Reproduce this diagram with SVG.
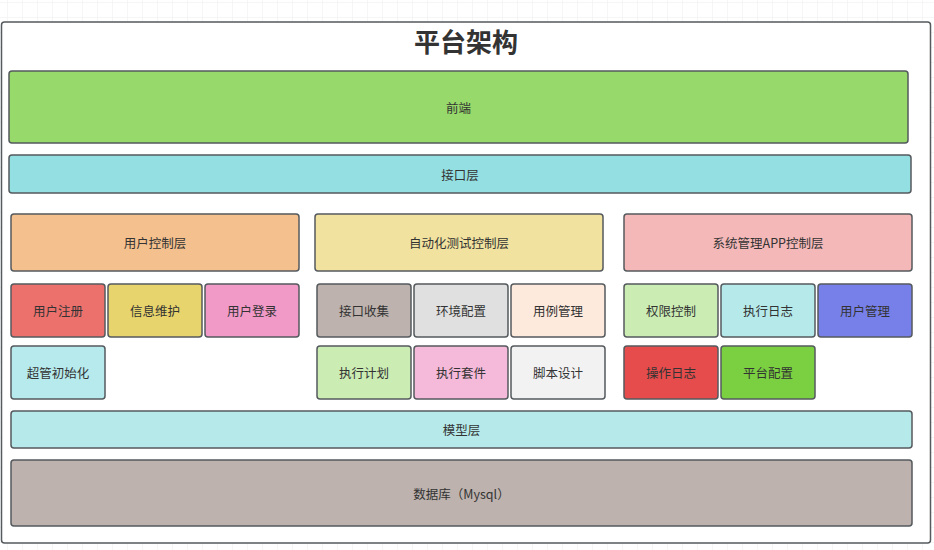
<svg xmlns="http://www.w3.org/2000/svg" width="934" height="550" viewBox="0 0 934 550">
<defs>
<pattern id="grid" x="7" y="2" width="15" height="15" patternUnits="userSpaceOnUse">
<path d="M0 0V15M0 0H15" fill="none" stroke="#eeeeee" stroke-width="1"/>
</pattern>
<style>
.b{stroke:#555a5e;stroke-width:1.5}
.t{font-family:"Noto Sans CJK SC","Liberation Sans",sans-serif;font-size:12.5px;fill:#333333;text-anchor:middle;dominant-baseline:central}
.h{font-family:"Noto Sans CJK SC","Liberation Sans",sans-serif;font-size:26px;font-weight:bold;fill:#333333;text-anchor:middle;dominant-baseline:central}
</style>
</defs>
<rect width="934" height="550" fill="#ffffff"/>
<rect width="934" height="550" fill="url(#grid)"/>
<g id="frame">
<rect x="1.5" y="22" width="929" height="521" rx="3" fill="#ffffff" class="b"/>
<text x="466" y="40" class="h">平台架构</text>
</g>
<g id="frontend"><rect x="9" y="71" width="899" height="72" rx="3" fill="#97d96a" class="b"/><text x="458.5" y="107" class="t">前端</text></g>
<g id="api-layer"><rect x="9" y="155" width="902" height="38" rx="3" fill="#93dfe1" class="b"/><text x="460" y="174" class="t">接口层</text></g>
<g id="user-ctrl"><rect x="11" y="214" width="288" height="57" rx="3" fill="#f4c08d" class="b"/><text x="155" y="242.5" class="t">用户控制层</text></g>
<g id="auto-ctrl"><rect x="315" y="214" width="288" height="57" rx="3" fill="#f1e29f" class="b"/><text x="459" y="242.5" class="t">自动化测试控制层</text></g>
<g id="sys-ctrl"><rect x="624" y="214" width="288" height="57" rx="3" fill="#f4b8b8" class="b"/><text x="768" y="242.5" class="t">系统管理APP控制层</text></g>
<g id="n-register"><rect x="11" y="284" width="94" height="53" rx="3" fill="#ec706c" class="b"/><text x="58" y="310.5" class="t">用户注册</text></g>
<g id="n-info"><rect x="108" y="284" width="94" height="53" rx="3" fill="#e8d46c" class="b"/><text x="155" y="310.5" class="t">信息维护</text></g>
<g id="n-login"><rect x="205" y="284" width="94" height="53" rx="3" fill="#f19ac8" class="b"/><text x="252" y="310.5" class="t">用户登录</text></g>
<g id="n-collect"><rect x="317" y="284" width="94" height="53" rx="3" fill="#bdb2ad" class="b"/><text x="364" y="310.5" class="t">接口收集</text></g>
<g id="n-env"><rect x="414" y="284" width="94" height="53" rx="3" fill="#e0e0e0" class="b"/><text x="461" y="310.5" class="t">环境配置</text></g>
<g id="n-case"><rect x="511" y="284" width="94" height="53" rx="3" fill="#fdeadc" class="b"/><text x="558" y="310.5" class="t">用例管理</text></g>
<g id="n-perm"><rect x="624" y="284" width="94" height="53" rx="3" fill="#cbedb4" class="b"/><text x="671" y="310.5" class="t">权限控制</text></g>
<g id="n-exelog"><rect x="721" y="284" width="94" height="53" rx="3" fill="#b6eaea" class="b"/><text x="768" y="310.5" class="t">执行日志</text></g>
<g id="n-usermgr"><rect x="818" y="284" width="94" height="53" rx="3" fill="#7780e9" class="b"/><text x="865" y="310.5" class="t">用户管理</text></g>
<g id="n-init"><rect x="11" y="346" width="94" height="53" rx="3" fill="#b6eaec" class="b"/><text x="58" y="372.5" class="t">超管初始化</text></g>
<g id="n-plan"><rect x="317" y="346" width="94" height="53" rx="3" fill="#cbedb4" class="b"/><text x="364" y="372.5" class="t">执行计划</text></g>
<g id="n-suite"><rect x="414" y="346" width="94" height="53" rx="3" fill="#f5bada" class="b"/><text x="461" y="372.5" class="t">执行套件</text></g>
<g id="n-script"><rect x="511" y="346" width="94" height="53" rx="3" fill="#f2f2f2" class="b"/><text x="558" y="372.5" class="t">脚本设计</text></g>
<g id="n-oplog"><rect x="624" y="346" width="94" height="53" rx="3" fill="#e64c4c" class="b"/><text x="671" y="372.5" class="t">操作日志</text></g>
<g id="n-platcfg"><rect x="721" y="346" width="94" height="53" rx="3" fill="#7ad041" class="b"/><text x="768" y="372.5" class="t">平台配置</text></g>
<g id="model-layer"><rect x="11" y="411" width="901" height="37" rx="3" fill="#b6eaea" class="b"/><text x="461.5" y="429.5" class="t">模型层</text></g>
<g id="database"><rect x="11" y="460" width="901" height="66" rx="3" fill="#bdb2ad" class="b"/><text x="461.5" y="493" class="t">数据库（Mysql）</text></g>
<g id="connectors"></g>
</svg>
